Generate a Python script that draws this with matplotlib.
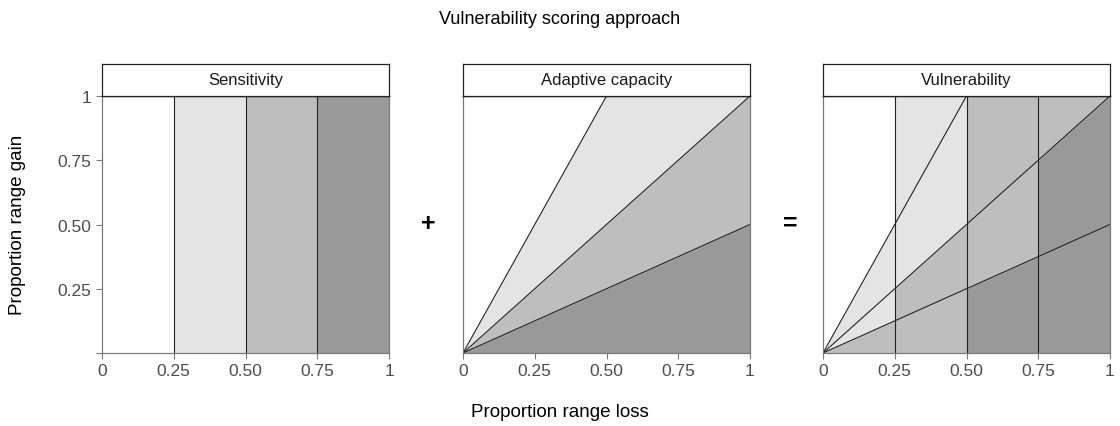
import numpy as np
import matplotlib
matplotlib.use("Agg")
import matplotlib.pyplot as plt

# =========================
# Data
# =========================
panel_titles = ["Sensitivity", "Adaptive capacity", "Vulnerability"]
# sensitivity classes: vertical breaks on proportion range loss
sens_breaks = [0, 0.25, 0.5, 0.75, 1]
# adaptive capacity classes: lines gain = slope * loss (steepest first)
adapt_slopes = [np.inf, 2, 1, 0.5, 0]
# vulnerability class for score = sensitivity class + adaptive class (0..6)
vuln_class = [0, 1, 1, 2, 2, 3, 3]

tick_vals = [0, 0.25, 0.5, 0.75, 1]
x_ticklabels = ["0", "0.25", "0.50", "0.75", "1"]
y_ticklabels = ["", "0.25", "0.50", "0.75", "1"]

# =========================
# Style
# =========================
plt.rcParams.update({
    "font.family": ["Liberation Sans", "DejaVu Sans"],
    "font.size": 11,
})
fills = ["white", "#e4e4e4", "#bebebe", "#999999"]
line_col = "#222222"
frame_col = "#7a7a7a"
tick_col = "#4d4d4d"


def band_limits(k, x):
    hi, lo = adapt_slopes[k], adapt_slopes[k + 1]
    upper = np.ones_like(x) if np.isinf(hi) else np.minimum(hi * x, 1)
    lower = np.minimum(lo * x, 1)
    return lower, upper


def style_panel(ax, title, show_y):
    ax.set_xlim(0, 1)
    ax.set_ylim(0, 1)
    ax.set_xticks(tick_vals)
    ax.set_xticklabels(x_ticklabels)
    if show_y:
        ax.set_yticks(tick_vals)
        ax.set_yticklabels(y_ticklabels)
    else:
        ax.set_yticks([])
    ax.tick_params(colors=frame_col, labelcolor=tick_col, labelsize=12.5, length=4, width=0.8)
    for side in ["left", "bottom", "right"]:
        ax.spines[side].set_color(frame_col)
        ax.spines[side].set_linewidth(0.9)
    ax.spines["top"].set_color(line_col)
    ax.spines["top"].set_linewidth(1.0)

    # strip header
    pos = ax.get_position()
    sax = fig.add_axes([pos.x0, pos.y1, pos.width, 32 / 427])
    sax.set_xticks([])
    sax.set_yticks([])
    for side in sax.spines.values():
        side.set_color(line_col)
        side.set_linewidth(0.9)
    sax.text(0.5, 0.5, title, ha="center", va="center", fontsize=12,
             color="#1a1a1a", transform=sax.transAxes)


fig = plt.figure(figsize=(11.2, 4.27), dpi=100)
lefts = [102 / 1120, 463 / 1120, 823 / 1120]
axes = [fig.add_axes([l, 73 / 427, 287 / 1120, 257 / 427]) for l in lefts]
ax1, ax2, ax3 = axes

# Sensitivity: vertical bands
for i in range(len(sens_breaks) - 1):
    ax1.axvspan(sens_breaks[i], sens_breaks[i + 1], color=fills[i], lw=0)
for b in sens_breaks[1:-1]:
    ax1.axvline(b, color=line_col, lw=0.8)

# Adaptive capacity: wedges from origin
x = np.linspace(0, 1, 401)
for k in range(len(adapt_slopes) - 1):
    lower, upper = band_limits(k, x)
    ax2.fill_between(x, lower, upper, color=fills[k], lw=0)
for s in adapt_slopes[1:-1]:
    ax2.plot(x, s * x, color=line_col, lw=0.8)

# Vulnerability: sum of both scores
for i in range(len(sens_breaks) - 1):
    xc = np.linspace(sens_breaks[i], sens_breaks[i + 1], 201)
    for k in range(len(adapt_slopes) - 1):
        lower, upper = band_limits(k, xc)
        ax3.fill_between(xc, lower, upper, where=upper > lower,
                         color=fills[vuln_class[i + k]], lw=0)
for b in sens_breaks[1:-1]:
    ax3.axvline(b, color=line_col, lw=0.8)
for s in adapt_slopes[1:-1]:
    ax3.plot(x, s * x, color=line_col, lw=0.8)

for ax, title, show_y in zip(axes, panel_titles, [True, False, False]):
    style_panel(ax, title, show_y)

# operators between panels
fig.text(428 / 1120, 1 - 224 / 427, "+", ha="center", va="center", fontsize=18, fontweight="bold")
fig.text(790 / 1120, 1 - 224 / 427, "=", ha="center", va="center", fontsize=18, fontweight="bold")

fig.text(0.5, 1 - 20 / 427, "Vulnerability scoring approach", ha="center", va="center", fontsize=13)
fig.text(560 / 1120, 1 - 413 / 427, "Proportion range loss", ha="center", va="center", fontsize=13.5)
fig.text(18 / 1120, 1 - 225 / 427, "Proportion range gain", ha="center", va="center",
         rotation=90, fontsize=13.5)

fig.savefig("out.png", dpi=100, facecolor="white")
